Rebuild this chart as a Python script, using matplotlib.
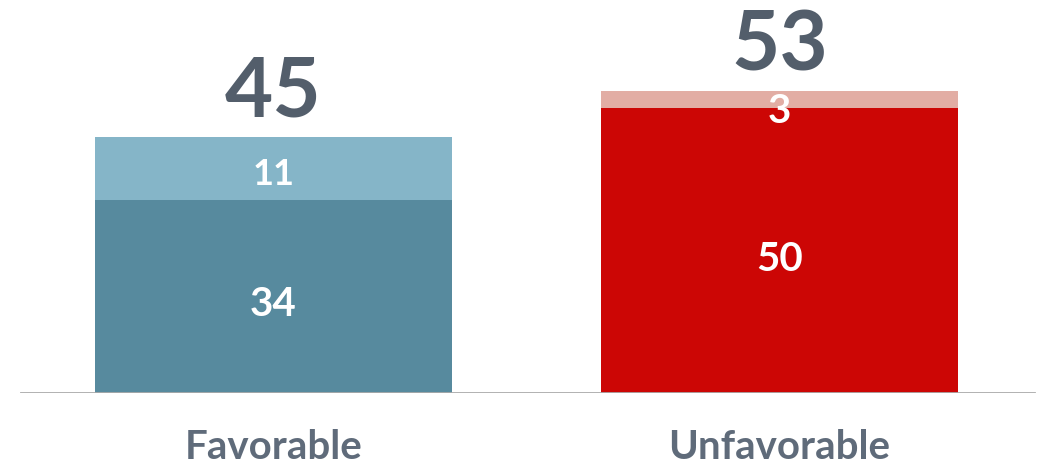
import matplotlib.pyplot as plt

categories = ["Favorable", "Unfavorable"]
base_values = [34, 50]
top_values = [11, 3]
totals = [45, 53]

base_colors = ["#578A9E", "#CC0605"]
top_colors = ["#85B5C8", "#E2ADA4"]

plt.rcParams["font.family"] = ["Lato", "DejaVu Sans"]

fig = plt.figure(figsize=(10.41, 4.69), dpi=100)
ax = fig.add_axes([0.0, (469 - 393) / 469, 1.0, 393 / 469])

x = [0, 1]
width = 357 / 506
ax.bar(x, base_values, width=width, color=base_colors, zorder=2)
ax.bar(x, top_values, bottom=base_values, width=width, color=top_colors, zorder=2)

for xi, b, t, tot in zip(x, base_values, top_values, totals):
    ax.text(xi, b / 2 - 1.5, str(b), ha="center", va="center", color="white",
            fontsize=29, fontweight="bold")
    ty = b + t / 2 - 1.1 if t > 5 else b + t / 2 - 2.0
    ax.text(xi, ty, str(t), ha="center", va="center", color="white",
            fontsize=26 if t > 5 else 29, fontweight="bold")
    ax.text(xi, b + t + 1.2, str(tot), ha="center", va="bottom", color="#535E6B",
            fontsize=60, fontweight="bold")

ax.set_xlim(-273.5 / 506, (1041 - 273.5) / 506)
ax.set_ylim(0, 393 / 5.69)
ax.axhline(0, xmin=21 / 1041, xmax=1034 / 1041, color="#AAAAAA", lw=2, zorder=3)
for s in ax.spines.values():
    s.set_visible(False)
ax.set_xticks([])
ax.set_yticks([])

for xi, c in zip(x, categories):
    ax.text(xi, -9.6, c, ha="center", va="center", color="#5F6B7A",
            fontsize=29, fontweight="bold")

fig.savefig("out.png", dpi=100, facecolor="white")
